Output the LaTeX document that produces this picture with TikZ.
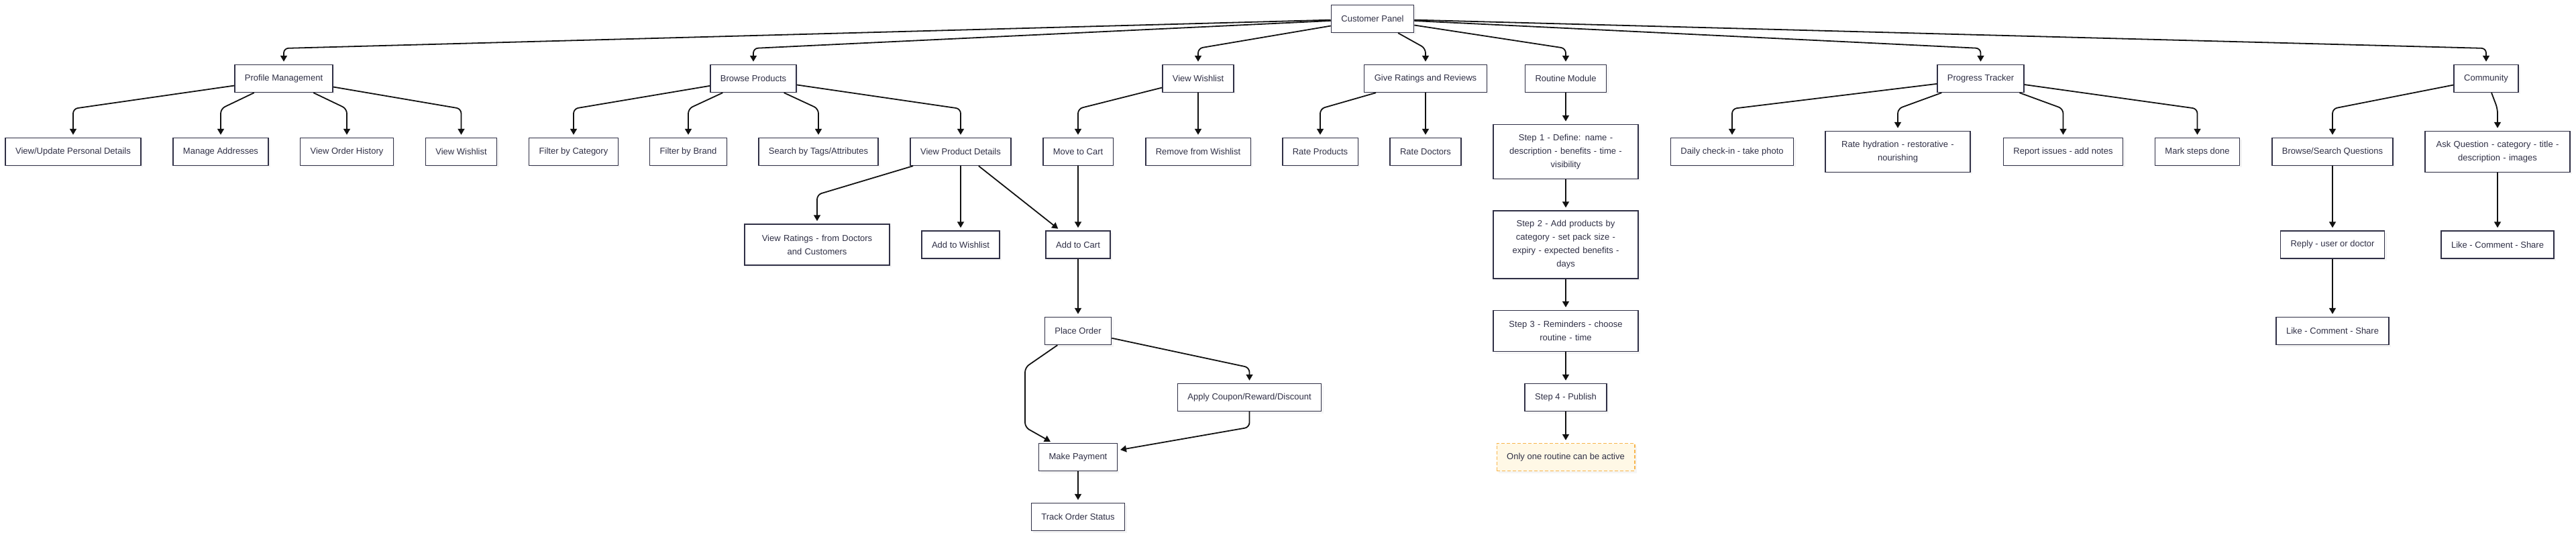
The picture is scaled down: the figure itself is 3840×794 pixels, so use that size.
\documentclass[tikz,border=0pt]{standalone}
\usepackage{fontspec}
\setmainfont{Liberation Sans}
\usetikzlibrary{arrows.meta,shadows}
\definecolor{boxline}{HTML}{2F2F45}
\definecolor{linkline}{HTML}{111111}
\definecolor{notefill}{HTML}{FFF8E6}
\definecolor{noteline}{HTML}{F8B54C}
\definecolor{shadefill}{HTML}{ECECEC}

\begin{document}
\begin{tikzpicture}
    [x=1pt, y=-1pt,
    item/.style={draw=boxline, line width=1.4pt, fill=white, text=boxline,
      font=\fontsize{13}{20}\selectfont, inner xsep=15pt, inner ysep=0pt,
      minimum height=41pt, align=center,
      drop shadow={shadow xshift=3pt, shadow yshift=-3pt, fill=shadefill, draw=none}},
    wrap/.style={text width=186pt},
    notebox/.style={item, draw=noteline, fill=notefill, dash pattern=on 5pt off 3pt},
    link/.style={draw=linkline, line width=1.8pt, rounded corners=7pt,
      -{Triangle[length=9pt,width=10pt]}, shorten >=4pt}]
  \useasboundingbox (0,0) rectangle (3840,794);

  \node [item] (cp) at (2046,28) {Customer Panel};

  \node [item] (pm) at (423,117) {Profile Management};
  \node [item] (bp) at (1123,117) {Browse Products};
  \node [item] (vw) at (1786,117) {View Wishlist};
  \node [item] (gr) at (2125,117) {Give Ratings and Reviews};
  \node [item] (rm) at (2334,117) {Routine Module};
  \node [item] (pt) at (2952.5,117) {Progress Tracker};
  \node [item] (cm) at (3706,117) {Community};

  \node [item] (pdet) at (109,226) {View/Update Personal Details};
  \node [item] (addr) at (329,226) {Manage Addresses};
  \node [item] (hist) at (517,226) {View Order History};
  \node [item] (wish) at (687.5,226) {View Wishlist};
  \node [item] (fcat) at (855,226) {Filter by Category};
  \node [item] (fbr) at (1026,226) {Filter by Brand};
  \node [item] (stag) at (1220,226) {Search by Tags/Attributes};
  \node [item] (vpd) at (1432,226) {View Product Details};
  \node [item] (mcart) at (1607,226) {Move to Cart};
  \node [item] (rwish) at (1786,226) {Remove from Wishlist};
  \node [item] (rprod) at (1968,226) {Rate Products};
  \node [item] (rdoc) at (2125,226) {Rate Doctors};
  \node [item, wrap, minimum height=81pt] (s1) at (2334,226)
    {Step 1 - Define: name -\\ description - benefits - time -\\ visibility};
  \node [item] (chk) at (2582,226) {Daily check-in - take photo};
  \node [item, wrap, minimum height=61pt] (hyd) at (2829,226)
    {Rate hydration - restorative -\\ nourishing};
  \node [item] (iss) at (3075.5,226) {Report issues - add notes};
  \node [item] (done) at (3275.5,226) {Mark steps done};
  \node [item] (bsq) at (3477,226) {Browse/Search Questions};
  \node [item, wrap, minimum height=61pt] (ask) at (3723,226)
    {Ask Question - category - title -\\ description - images};

  \node [item, wrap, minimum height=61pt] (rat) at (1218,364.5)
    {View Ratings - from Doctors\\ and Customers};
  \node [item] (awish) at (1432,364.5) {Add to Wishlist};
  \node [item] (cart) at (1607,364.5) {Add to Cart};
  \node [item, wrap, minimum height=101pt] (s2) at (2334,364.5)
    {Step 2 - Add products by\\ category - set pack size -\\ expiry - expected benefits -\\ days};
  \node [item] (reply) at (3477,364.5) {Reply - user or doctor};
  \node [item] (like2) at (3723,364.5) {Like - Comment - Share};

  \node [item] (order) at (1607,493) {Place Order};
  \node [item, wrap, minimum height=61pt] (s3) at (2334,493)
    {Step 3 - Reminders - choose\\ routine - time};
  \node [item] (like1) at (3477,493) {Like - Comment - Share};

  \node [item] (coupon) at (1862.5,592) {Apply Coupon/Reward/Discount};
  \node [item] (s4) at (2334,592) {Step 4 - Publish};

  \node [item] (pay) at (1607,681) {Make Payment};
  \node [notebox] (only) at (2334,681) {Only one routine can be active};

  \node [item] (track) at (1607,770) {Track Order Status};

  \draw [link] (cp) -- (pm |- 0,72) -- (pm);
  \draw [link] (cp) -- (bp |- 0,72) -- (bp);
  \draw [link] (cp) -- (vw |- 0,72) -- (vw);
  \draw [link] (cp) -- (gr |- 0,72) -- (gr);
  \draw [link] (cp) -- (rm |- 0,72) -- (rm);
  \draw [link] (cp) -- (pt |- 0,72) -- (pt);
  \draw [link] (cp) -- (cm |- 0,72) -- (cm);

  \draw [link] (pm) -- (pdet |- 0,162) -- (pdet);
  \draw [link] (pm) -- (addr |- 0,162) -- (addr);
  \draw [link] (pm) -- (hist |- 0,162) -- (hist);
  \draw [link] (pm) -- (wish |- 0,162) -- (wish);

  \draw [link] (bp) -- (fcat |- 0,162) -- (fcat);
  \draw [link] (bp) -- (fbr |- 0,162) -- (fbr);
  \draw [link] (bp) -- (stag |- 0,162) -- (stag);
  \draw [link] (bp) -- (vpd |- 0,162) -- (vpd);

  \draw [link] (vpd) -- (rat |- 0,290) -- (rat);
  \draw [link] (vpd) -- (awish);
  \draw [link] (vpd) -- ([xshift=22pt]cart.north west);

  \draw [link] (vw) -- (mcart |- 0,162) -- (mcart);
  \draw [link] (vw) -- (rwish);
  \draw [link] (mcart) -- (cart);

  \draw [link] (cart) -- (order);
  \draw [link] (order) -- (1528,547.5) -- (1528,636.5) -- (pay);
  \draw [link] (order) -- (coupon |- 0,547.5) -- (coupon);
  \draw [link] (coupon) -- (coupon |- 0,636.5) -- (pay);
  \draw [link] (pay) -- (track);

  \draw [link] (gr) -- (rprod |- 0,162) -- (rprod);
  \draw [link] (gr) -- (rdoc);

  \draw [link] (rm) -- (s1);
  \draw [link] (s1) -- (s2);
  \draw [link] (s2) -- (s3);
  \draw [link] (s3) -- (s4);
  \draw [link] (s4) -- (only);

  \draw [link] (pt) -- (chk |- 0,162) -- (chk);
  \draw [link] (pt) -- (hyd |- 0,162) -- (hyd);
  \draw [link] (pt) -- (iss |- 0,162) -- (iss);
  \draw [link] (pt) -- (done |- 0,162) -- (done);

  \draw [link] (cm) -- (bsq |- 0,162) -- (bsq);
  \draw [link] (cm) -- (ask |- 0,162) -- (ask);
  \draw [link] (bsq) -- (reply);
  \draw [link] (reply) -- (like1);
  \draw [link] (ask) -- (like2);
\end{tikzpicture}
\end{document}
